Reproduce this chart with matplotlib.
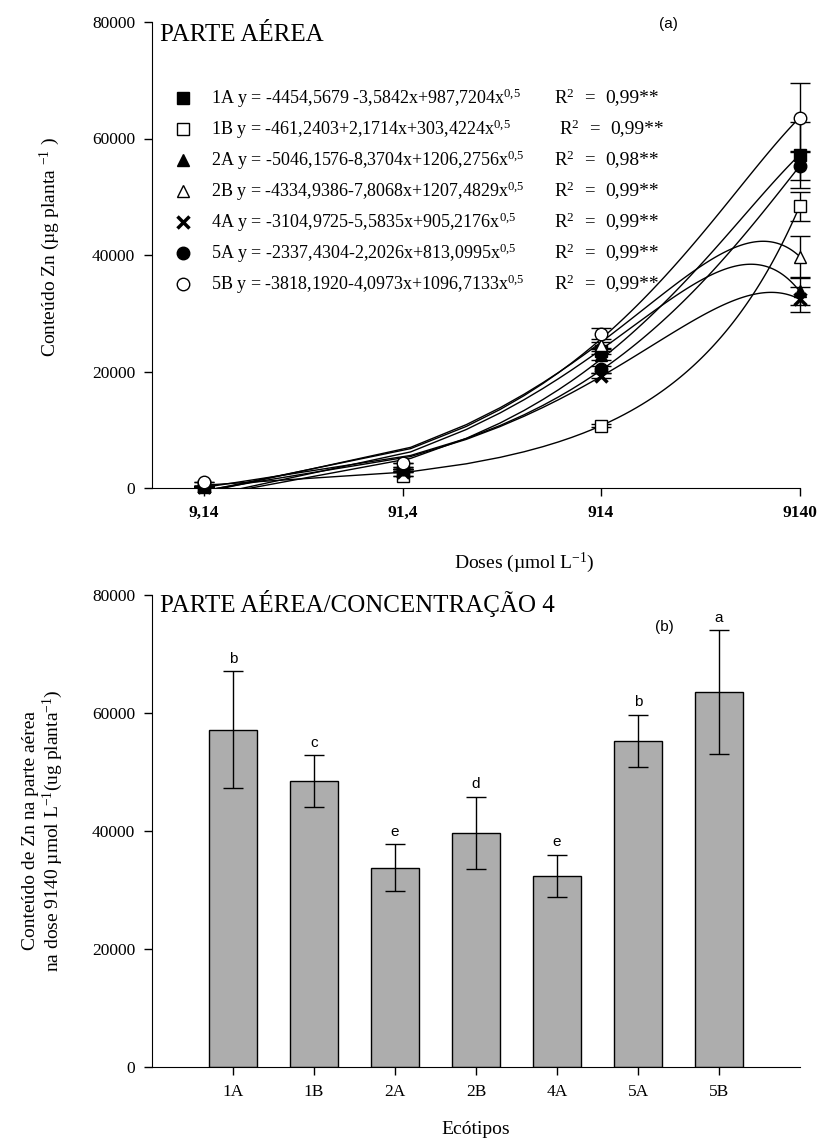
import numpy as np
import matplotlib
matplotlib.use('Agg')
import matplotlib.pyplot as plt

plt.rcParams['font.family'] = ['Liberation Serif', 'DejaVu Serif']
plt.rcParams['mathtext.fontset'] = 'custom'
plt.rcParams['mathtext.rm'] = 'Liberation Serif'
plt.rcParams['mathtext.it'] = 'Liberation Serif:italic'
plt.rcParams['mathtext.bf'] = 'Liberation Serif:bold'

# ---- data: panel (a) ----
doses = [9.14, 91.4, 914, 9140]
dose_labels = ['9,14', '91,4', '914', '9140']
ecotypes = ['1A', '1B', '2A', '2B', '4A', '5A', '5B']

zn_1A = [300, 3000, 23500, 57200]
zn_1B = [300, 2000, 10700, 48400]
zn_2A = [200, 3200, 22800, 33800]
zn_2B = [400, 3600, 24500, 39700]
zn_4A = [100, 2700, 19300, 32400]
zn_5A = [400, 3300, 20400, 55300]
zn_5B = [1000, 4300, 26500, 63600]

err_1A = [0, 0, 500, 5700]
err_1B = [0, 0, 300, 2500]
err_2A = [0, 0, 800, 2300]
err_2B = [0, 0, 600, 3500]
err_4A = [0, 0, 500, 2100]
err_5A = [0, 0, 600, 2500]
err_5B = [0, 0, 900, 6000]

# fitted coefficients printed on the chart: y = a + b*x + c*x^0.5
coef_a = [-4454.5679, -461.2403, -5046.1576, -4334.9386, -3104.9725, -2337.4304, -3818.1920]
coef_b = [-3.5842, 2.1714, -8.3704, -7.8068, -5.5835, -2.2026, -4.0973]
coef_c = [987.7204, 303.4224, 1206.2756, 1207.4829, 905.2176, 813.0995, 1096.7133]

eq_text = ['1A y = -4454,5679 -3,5842x+987,7204x',
           '1B y = -461,2403+2,1714x+303,4224x',
           '2A y = -5046,1576-8,3704x+1206,2756x',
           '2B y = -4334,9386-7,8068x+1207,4829x',
           '4A y = -3104,9725-5,5835x+905,2176x',
           '5A y = -2337,4304-2,2026x+813,0995x',
           '5B y = -3818,1920-4,0973x+1096,7133x']
r2_text = ['0,99', '0,99', '0,98', '0,99', '0,99', '0,99', '0,99']

# ---- data: panel (b) ----
bar_mean = [57200, 48400, 33800, 39700, 32400, 55300, 63600]
bar_err = [9900, 4400, 4000, 6100, 3600, 4400, 10500]
bar_letters = ['b', 'c', 'e', 'd', 'e', 'b', 'a']

series = [zn_1A, zn_1B, zn_2A, zn_2B, zn_4A, zn_5A, zn_5B]
errors = [err_1A, err_1B, err_2A, err_2B, err_4A, err_5A, err_5B]
markers = ['s', 's', '^', '^', 'x', 'o', 'o']
fills = ['black', 'white', 'black', 'white', 'black', 'black', 'white']

fig = plt.figure(figsize=(8.21, 11.4), dpi=100)
W, H = 821, 1140
ax1 = fig.add_axes([152/W, 1-488/H, 648/W, 466/H])
ax2 = fig.add_axes([152/W, 1-1067/H, 648/W, 472/H])

# panel (a)
xx = np.linspace(doses[0], doses[-1], 101)
for i in range(len(ecotypes)):
    yy = coef_a[i] + coef_b[i]*xx + coef_c[i]*np.sqrt(xx)
    ax1.plot(xx, yy, color='black', lw=1, zorder=2)
for i in range(len(ecotypes)):
    eb = ax1.errorbar(doses, series[i], yerr=errors[i], fmt='none', ecolor='black',
                      elinewidth=1, capsize=7, capthick=1, zorder=3)
    for art in eb.lines[1] + eb.lines[2]:
        art.set_clip_on(False)
    if markers[i] == 'x':
        ax1.plot(doses, series[i], ls='none', marker='x', ms=8, mew=2.5,
                 color='black', zorder=4, clip_on=False)
    else:
        ax1.plot(doses, series[i], ls='none', marker=markers[i], ms=9,
                 mfc=fills[i], mec='black', mew=1, zorder=4, clip_on=False)

ax1.set_xscale('log')
ax1.set_xlim(5.0, 9140*1.004)
ax1.set_ylim(0, 80000)
ax1.set_xticks(doses)
ax1.set_xticklabels(dose_labels, fontweight='bold')
ax1.xaxis.set_minor_locator(matplotlib.ticker.NullLocator())
ax1.set_yticks([0, 20000, 40000, 60000, 80000])
ax1.set_ylabel('Conteúdo Zn (µg planta $^{-1}$ )', fontsize=14)
ax1.yaxis.set_label_coords(-0.139, 0.517)
ax1.set_xlabel('Doses (µmol L$^{-1}$)', fontsize=14)
ax1.xaxis.set_label_coords(0.574, -0.135)

ax1.text(8/648, 0.972, 'PARTE AÉREA', transform=ax1.transAxes, fontsize=18,
         va='center', ha='left')
ax1.text(516/648, 0.995, '(a)', transform=ax1.transAxes, fontsize=11,
         family='Liberation Sans', va='center', ha='center')

for i in range(len(ecotypes)):
    ypx = 98 + 31*i
    yax = (488 - ypx) / 466
    if markers[i] == 'x':
        ax1.plot([31/648], [yax], transform=ax1.transAxes, marker='x', ms=8,
                 mew=2.5, color='black', ls='none', clip_on=False)
    else:
        ax1.plot([31/648], [yax], transform=ax1.transAxes, marker=markers[i],
                 ms=9, mfc=fills[i], mec='black', mew=1, ls='none', clip_on=False)
    ax1.text(59/648, yax, eq_text[i] + '$^{0{,}5}$', transform=ax1.transAxes,
             fontsize=13, va='center', ha='left')
    r2x = 402 + (5 if i == 1 else 0)
    ax1.text(r2x/648, yax, 'R$^{2}$', transform=ax1.transAxes,
             fontsize=13.5, va='center', ha='left')
    ax1.text((r2x + 30)/648, yax, '=', transform=ax1.transAxes,
             fontsize=13.5, va='center', ha='left')
    ax1.text((r2x + 51)/648, yax, r2_text[i] + '**', transform=ax1.transAxes,
             fontsize=14, va='center', ha='left')

# panel (b)
pos = np.arange(1, len(ecotypes) + 1)
ax2.bar(pos, bar_mean, width=0.6, color='#adadad', edgecolor='black', lw=1, zorder=2)
ax2.errorbar(pos, bar_mean, yerr=bar_err, fmt='none', ecolor='black',
             elinewidth=1, capsize=7, capthick=1, zorder=3)
for i in range(len(ecotypes)):
    ax2.text(pos[i], bar_mean[i] + bar_err[i] + 900, bar_letters[i],
             family='Liberation Sans', fontsize=11, ha='center', va='bottom')
ax2.set_xlim(0, 8)
ax2.set_ylim(0, 80000)
ax2.set_xticks(pos)
ax2.set_xticklabels(ecotypes)
ax2.set_yticks([0, 20000, 40000, 60000, 80000])
ax2.set_ylabel('Conteúdo de Zn na parte aérea\nna dose 9140 µmol L$^{-1}$(ug planta$^{-1}$)',
               fontsize=14, linespacing=1.1)
ax2.yaxis.set_label_coords(-0.134, 0.5)
ax2.set_xlabel('Ecótipos', fontsize=14)
ax2.xaxis.set_label_coords(0.5, -0.114)
ax2.text(8/648, 0.983, 'PARTE AÉREA/CONCENTRAÇÃO 4', transform=ax2.transAxes,
         fontsize=18, va='center', ha='left')
ax2.text(6.32, 74600, '(b)', family='Liberation Sans', fontsize=11,
         ha='center', va='center')

for ax in (ax1, ax2):
    ax.spines['top'].set_visible(False)
    ax.spines['right'].set_visible(False)
    ax.tick_params(direction='out', length=6, width=1, labelsize=12.5, pad=6)

fig.savefig('out.png', dpi=100)
